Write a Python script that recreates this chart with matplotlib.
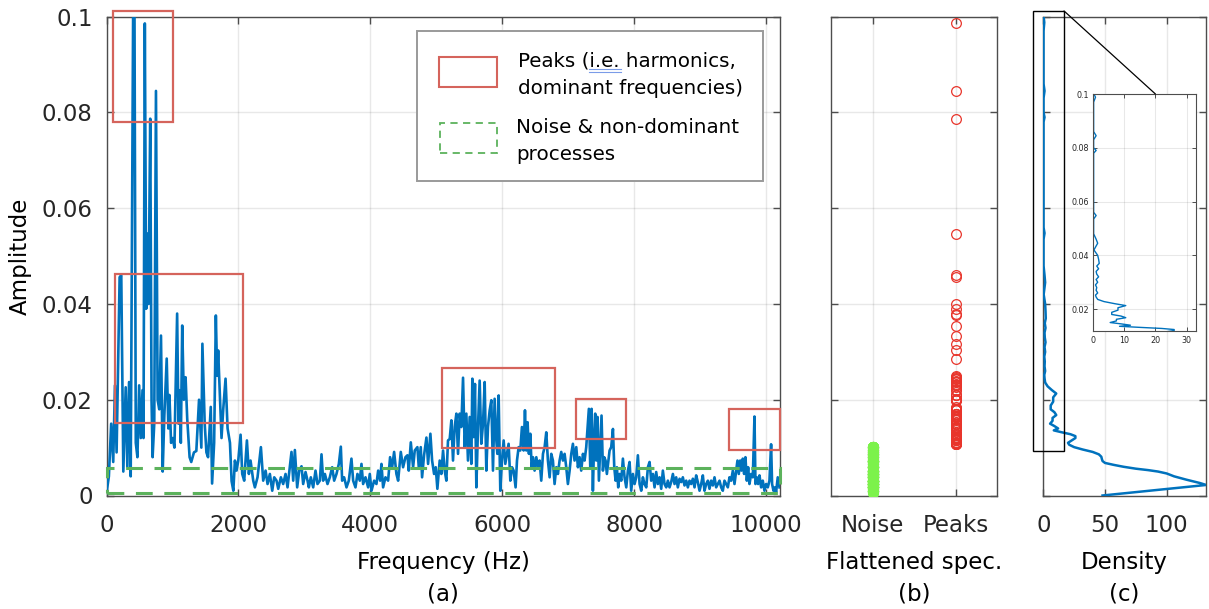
import numpy as np
import matplotlib.pyplot as plt
from matplotlib.patches import Rectangle, ConnectionPatch
from matplotlib.lines import Line2D

plt.rcParams['font.family'] = ['DejaVu Sans']

# amplitude spectrum (Hz, amplitude)
spec_hz = [0, 36, 71, 102, 128, 153, 199, 224, 255, 291, 316, 342, 367, 408, 423, 444, 469, 495, 520, 546,
           561, 581, 602, 622, 638, 663, 683, 699, 724, 750, 775, 800, 826, 852, 877, 913, 938, 954, 979, 1005,
           1030, 1071, 1091, 1107, 1127, 1148, 1173, 1199, 1224, 1260, 1285, 1326, 1362, 1403, 1438, 1454, 1489,
           1515, 1540, 1581, 1601, 1632, 1658, 1678, 1693, 1719, 1744, 1770, 1805, 1836, 1872, 1897, 1923,
           1947, 1972, 1998, 2033, 2058, 2088, 2129, 2159, 2184, 2225, 2250, 2290, 2341, 2376, 2412, 2442, 2477,
           2513, 2543, 2578, 2604, 2644, 2679, 2715, 2745, 2780, 2805, 2831, 2856, 2891, 2922, 2957, 2982, 3018,
           3048, 3068, 3098, 3134, 3169, 3199, 3235, 3260, 3285, 3311, 3351, 3386, 3422, 3452, 3487, 3523, 3553,
           3573, 3603, 3639, 3674, 3714, 3740, 3775, 3805, 3841, 3866, 3891, 3927, 3967, 3992, 4018, 4058, 4093,
           4119, 4149, 4169, 4194, 4230, 4270, 4300, 4331, 4361, 4396, 4422, 4462, 4497, 4533, 4563, 4583, 4614,
           4649, 4674, 4714, 4735, 4765, 4785, 4815, 4851, 4876, 4911, 4937, 4967, 4992, 5017,
           5052, 5077, 5103, 5128, 5153, 5178, 5204, 5229, 5254, 5279, 5305, 5330, 5355, 5380, 5406, 5431, 5456,
           5481, 5507, 5532, 5547, 5567, 5587, 5608, 5633, 5658, 5683, 5709, 5734, 5759, 5784, 5810, 5835, 5860,
           5885, 5911, 5926, 5946, 5971, 5996, 6022, 6047, 6072, 6097, 6123, 6148, 6173, 6203, 6224, 6249, 6274,
           6299, 6325, 6345, 6365, 6385, 6405, 6426, 6446, 6466, 6491, 6517, 6542, 6567, 6592, 6618, 6643, 6668,
           6693, 6719, 6744, 6769, 6794, 6820, 6845, 6870, 6895, 6921, 6946, 6971, 6996, 7022, 7047, 7072, 7097,
           7123, 7148, 7173, 7198, 7224, 7249, 7274, 7299, 7314, 7335, 7355, 7375, 7395, 7410, 7426, 7446, 7466,
           7486, 7506, 7527, 7547, 7567, 7587,
           7628, 7653, 7679, 7699, 7719, 7739, 7759, 7780, 7805, 7830, 7855, 7881, 7906, 7931, 7956, 7982, 8007,
           8032, 8057, 8083, 8108, 8133, 8158, 8184, 8209, 8234, 8259, 8285, 8310, 8335, 8360, 8386, 8411, 8436,
           8461, 8487, 8512, 8537, 8562, 8588, 8613, 8638, 8663, 8689, 8714, 8739, 8764, 8790, 8815, 8840, 8865,
           8891, 8916, 8941, 8966, 8992, 9017, 9042, 9067, 9093, 9118, 9143, 9168, 9194, 9219, 9244, 9269, 9295,
           9320, 9345, 9370, 9396, 9421, 9446, 9471, 9497, 9522, 9547, 9567, 9587, 9608, 9628, 9648, 9668, 9688,
           9709, 9729, 9749, 9774, 9800, 9825, 9840, 9860, 9880, 9901, 9926, 9951, 9976, 10001, 10027, 10052,
           10077, 10092, 10113, 10133, 10153, 10178, 10204]
spec_amp = [0.0005, 0.004, 0.015, 0.007, 0.023, 0.009, 0.0456, 0.046, 0.005, 0.0226, 0.006, 0.0237, 0.004,
            0.112, 0.108, 0.011, 0.008, 0.023, 0.012, 0.022, 0.012, 0.0986, 0.039, 0.0547, 0.040, 0.0787, 0.020,
            0.008, 0.015, 0.0845, 0.020, 0.018, 0.0334, 0.005, 0.0167, 0.0286, 0.014, 0.021, 0.011, 0.012, 0.010,
            0.038, 0.015, 0.022, 0.011, 0.0355, 0.020, 0.0247, 0.016, 0.008, 0.007, 0.009, 0.0093, 0.020, 0.010,
            0.0317, 0.015, 0.009, 0.008, 0.0185, 0.0025, 0.011, 0.0376, 0.025, 0.0303, 0.021, 0.012, 0.018,
            0.0244, 0.014, 0.011, 0.003, 0.001,
            0.0073, 0.0052, 0.0073, 0.0127, 0.0045, 0.0031, 0.0115, 0.0045, 0.0073, 0.0031, 0.0017, 0.0038,
            0.0101, 0.0031, 0.0052, 0.0024, 0.0045, 0.0010, 0.0038, 0.0031, 0.0014, 0.0038, 0.0024, 0.0045,
            0.0017, 0.0059, 0.0091, 0.0031, 0.0095, 0.0017, 0.0052, 0.0061, 0.0024, 0.0049, 0.0031, 0.0017,
            0.0038, 0.0017, 0.0052, 0.0024, 0.0031, 0.0086, 0.0031, 0.0045, 0.0024, 0.0038, 0.0059, 0.0031,
            0.0045, 0.0066, 0.0102, 0.0031, 0.0038, 0.0017, 0.0031, 0.0077, 0.0031, 0.0017, 0.0045, 0.0031,
            0.0066, 0.0024, 0.0038, 0.0017, 0.0045, 0.0010, 0.0031, 0.0024, 0.0052, 0.0031, 0.0066, 0.0017,
            0.0038, 0.0031, 0.0080, 0.0059, 0.0091, 0.0045, 0.0031, 0.0091, 0.0059, 0.0080, 0.0084, 0.0052,
            0.0111, 0.0059, 0.0094, 0.0101, 0.0059, 0.0101, 0.0038, 0.0084, 0.0121, 0.0066, 0.0129, 0.0073,
            0.0045, 0.0059, 0.0014,
            0.0073, 0.0045, 0.0094, 0.0052, 0.0031, 0.0115, 0.0118, 0.0157, 0.0073, 0.0143, 0.0171, 0.0087,
            0.0171, 0.0143, 0.0246, 0.0101, 0.0171, 0.0073, 0.0164, 0.0066, 0.0244, 0.0122, 0.0233, 0.0017,
            0.0143, 0.0240, 0.0108, 0.0150, 0.0237, 0.0052, 0.0143, 0.0178, 0.0199, 0.0052, 0.0202, 0.0115,
            0.0087, 0.0209, 0.0010, 0.0073, 0.0115, 0.0066, 0.0087, 0.0108, 0.0031, 0.0059, 0.0052, 0.0017,
            0.0073, 0.0101, 0.0094, 0.0143, 0.0094, 0.0178, 0.0094, 0.0153, 0.0087, 0.0129, 0.0059, 0.0080,
            0.0052, 0.0080, 0.0059, 0.0073, 0.0031, 0.0087, 0.0101, 0.0132, 0.0073, 0.0038, 0.0087, 0.0073,
            0.0024, 0.0059, 0.0045, 0.0073, 0.0091, 0.0073, 0.0087, 0.0059, 0.0024, 0.0052, 0.0087, 0.0108,
            0.0073, 0.0101, 0.0059, 0.0080, 0.0052, 0.0087, 0.0073, 0.0101, 0.0150, 0.0181, 0.0059, 0.0181,
            0.0010, 0.0122, 0.0171, 0.0073, 0.0164, 0.0031, 0.0101, 0.0167, 0.0052, 0.0080, 0.0073, 0.0045,
            0.0094, 0.0101, 0.0139, 0.0059, 0.0031, 0.0059, 0.0017, 0.0045, 0.0031, 0.0077, 0.0038, 0.0017,
            0.0052, 0.0070, 0.0010, 0.0045, 0.0024, 0.0038, 0.0084, 0.0024, 0.0010, 0.0038, 0.0024, 0.0017,
            0.0059, 0.0070, 0.0031, 0.0045, 0.0017, 0.0049, 0.0024, 0.0038, 0.0014, 0.0052, 0.0024, 0.0017,
            0.0031, 0.0017, 0.0028, 0.0045, 0.0024, 0.0038, 0.0017, 0.0035, 0.0028, 0.0038, 0.0021, 0.0031,
            0.0017, 0.0031, 0.0024, 0.0035, 0.0017, 0.0042, 0.0028, 0.0010, 0.0024, 0.0042, 0.0010, 0.0024,
            0.0031, 0.0014, 0.0031, 0.0021, 0.0038, 0.0017, 0.0024, 0.0031, 0.0017, 0.0010, 0.0031, 0.0024,
            0.0017, 0.0038, 0.0031, 0.0052, 0.0024, 0.0052, 0.0073, 0.0045, 0.0073, 0.0052, 0.0077, 0.0045,
            0.0080, 0.0031, 0.0059, 0.0024, 0.0045, 0.0038, 0.0165, 0.0024, 0.0038, 0.0024, 0.0042, 0.0017,
            0.0031, 0.0010, 0.0024, 0.0017, 0.0031, 0.0107, 0.0024, 0.0010, 0.0017, 0.0007, 0.0038, 0.0017]

# highlighted regions: (f0, f1, a0, a1)
peak_boxes = [(106, 1015, 0.0781, 0.1012), (136, 2076, 0.0152, 0.0462), (5091, 6803, 0.0100, 0.0267),
              (7121, 7879, 0.0117, 0.0202), (9439, 10212, 0.0096, 0.0181)]
noise_band = (0.0006, 0.0058)
split_level = 0.0102

# kernel density of the flattened spectrum (amplitude, density)
dens_amp = [0.0000, 0.0011, 0.0022, 0.0026, 0.0033, 0.0040, 0.0046, 0.0050, 0.0053, 0.0056, 0.0060,
            0.0064, 0.0068, 0.0072, 0.0076, 0.0081, 0.0086, 0.0091, 0.0096, 0.0101, 0.0106, 0.0110, 0.0115,
            0.0120, 0.0124, 0.0128, 0.0132, 0.0136, 0.0140, 0.0145, 0.0150, 0.0156, 0.0162, 0.0168, 0.0174,
            0.0180, 0.0188, 0.0196, 0.0205, 0.0213, 0.0220, 0.0228, 0.0236, 0.0245, 0.0252, 0.0260, 0.0270,
            0.0280, 0.0290, 0.0300, 0.0310, 0.0320, 0.0330, 0.0340, 0.0350, 0.0360, 0.0370, 0.0385, 0.0400,
            0.0420, 0.0445, 0.0460, 0.0480, 0.0535, 0.0548, 0.0560, 0.0780, 0.0790, 0.0800, 0.0830, 0.0845,
            0.0860, 0.0970, 0.0988, 0.1000]
dens_val = [48, 90, 132, 127, 116, 106, 100, 93, 85, 75, 65, 57, 50, 48, 47.5, 47, 45, 40, 32, 25, 21, 20,
            23, 26, 26, 22, 15, 8.5, 12, 9, 5.5, 7.5, 7.5, 10.5, 9, 6, 6, 8, 8, 10.5, 7, 3.5, 1.5, 1.0, 0.8,
            1.5, 1.0, 1.2, 0.8, 1.5, 1.0, 1.8, 1.2, 1.0, 1.8, 1.2, 2.0, 1.8, 1.5, 0.3, 1.5, 1.0, 0.2, 0.2, 1.0,
            0.2, 0.2, 1.0, 0.2, 0.2, 1.0, 0.2, 0.2, 0.8, 0.3]

blue = '#0072BD'
box_red = '#D5645C'
dash_green = '#5CB25C'
dot_green = '#7CF24B'
dot_red = '#E8352B'
axis_col = '#262626'
tick_fs = 16.5
label_fs = 16.5


def matlab_style(ax):
    ax.grid(True, color='#000000', alpha=0.09, lw=1.0)
    ax.set_axisbelow(True)
    for s in ax.spines.values():
        s.set_color('#4d4d4d')
        s.set_linewidth(1.0)
    ax.tick_params(direction='in', length=5, width=1.0, color='#4d4d4d', top=True, right=True,
                   labelsize=tick_fs, labelcolor=axis_col, pad=10)
    ax.tick_params(axis='x', pad=13)


fig = plt.figure(figsize=(12.09, 6.09), dpi=100)
W, H = 1209, 609


def px_axes(x0, y0, x1, y1):
    return fig.add_axes([x0 / W, (H - y1) / H, (x1 - x0) / W, (y1 - y0) / H])


def fig_text(x, y, s, **kw):
    return fig.text(x / W, (H - y) / H, s, **kw)


# (a) spectrum
ax = px_axes(106.5, 16.7, 780, 495.5)
matlab_style(ax)
ax.plot(spec_hz, spec_amp, color=blue, lw=1.9, zorder=3)
for f0, f1, a0, a1 in peak_boxes:
    ax.add_patch(Rectangle((f0, a0), f1 - f0, a1 - a0, fill=False, ec=box_red, lw=1.6,
                           clip_on=False, zorder=4))
ax.add_patch(Rectangle((0, noise_band[0]), 10212, noise_band[1] - noise_band[0], fill=False,
                       ec=dash_green, lw=2.2, ls=(0, (5.5, 3.8)), clip_on=False, zorder=4))
ax.set_xlim(0, 10212)
ax.set_ylim(0, 0.1)
ax.set_xticks([0, 2000, 4000, 6000, 8000, 10000])
ax.set_yticks([0, 0.02, 0.04, 0.06, 0.08, 0.1])
ax.set_yticklabels(['0', '0.02', '0.04', '0.06', '0.08', '0.1'])

# legend drawn as a framed text block
fig.patches.append(Rectangle((416.7 / W, (H - 181) / H), 346 / W, 150 / H, transform=fig.transFigure,
                             fill=True, fc='white', ec='#9a9a9a', lw=1.4, zorder=10))
fig.patches.append(Rectangle((439 / W, (H - 86.7) / H), 58.3 / W, 30 / H, transform=fig.transFigure,
                             fill=False, ec=box_red, lw=1.5, zorder=11))
fig.patches.append(Rectangle((440 / W, (H - 153.3) / H), 57 / W, 30.3 / H, transform=fig.transFigure,
                             fill=False, ec=dash_green, lw=1.3, ls=(0, (4, 3)), zorder=11))
legend_lines = [(518, 66.7, 'Peaks (i.e. harmonics,'), (518, 94, 'dominant frequencies)'),
                (516.5, 133.3, 'Noise & non-dominant'), (516.5, 160, 'processes')]
for lx, ly, s in legend_lines:
    fig_text(lx, ly, s, fontsize=14.3, va='baseline', ha='left', zorder=12)
for yy in (69.3, 71.7):
    fig.lines.append(Line2D([589 / W, 621 / W], [(H - yy) / H] * 2, transform=fig.transFigure,
                            color='#7a9be8', lw=0.8, zorder=12))

# (b) flattened spectrum split into noise and peaks
amp = np.array(spec_amp)
noise_vals = amp[amp <= split_level]
peak_vals = amp[(amp > split_level) & (amp <= 0.1)]
axb = px_axes(831, 16.7, 997.3, 495.5)
matlab_style(axb)
axb.plot(np.ones(len(noise_vals)), noise_vals, 'o', ms=7, mfc=dot_green, mec=dot_green, zorder=3)
axb.plot(np.full(len(peak_vals), 2), peak_vals, 'o', ms=7, mfc='none', mec=dot_red, mew=0.9, zorder=3)
axb.set_xlim(0.5, 2.5)
axb.set_ylim(0, 0.1)
axb.set_xticks([1, 2])
axb.set_xticklabels(['Noise', 'Peaks'])
axb.set_yticks([0, 0.02, 0.04, 0.06, 0.08, 0.1])
axb.set_yticklabels([])

# (c) density
axc = px_axes(1043.3, 16.7, 1205.7, 495.5)
matlab_style(axc)
axc.plot(dens_val, dens_amp, color=blue, lw=1.8, zorder=3)
axc.set_xlim(0, 131.6)
axc.set_ylim(0, 0.1)
axc.set_xticks([0, 50, 100])
axc.set_yticks([0, 0.02, 0.04, 0.06, 0.08, 0.1])
axc.set_yticklabels([])
axc.add_patch(Rectangle((-8.3, 0.0092), 25.1, 0.092, fill=False, ec='black', lw=1.0,
                        clip_on=False, zorder=5))

axi = px_axes(1093, 94, 1196, 331.4)
axi.grid(True, color='#000000', alpha=0.09, lw=0.8)
for s in axi.spines.values():
    s.set_color('#4d4d4d')
    s.set_linewidth(0.8)
axi.tick_params(direction='in', length=3, width=0.7, color='#4d4d4d', top=True, right=True,
                labelsize=5.8, labelcolor=axis_col, pad=3)
axi.plot(dens_val, dens_amp, color=blue, lw=1.0)
axi.set_xlim(0, 33)
axi.set_ylim(0.0117, 0.1)
axi.set_xticks([0, 10, 20, 30])
axi.set_yticks([0.02, 0.04, 0.06, 0.08, 0.1])
axi.set_yticklabels(['0.02', '0.04', '0.06', '0.08', '0.1'])
con = ConnectionPatch(xyA=(16.8, 0.1012), coordsA=axc.transData, xyB=(20, 0.1), coordsB=axi.transData,
                      color='black', lw=0.9, zorder=6)
fig.add_artist(con)

# axis titles and panel letters
fig_text(20, 256, 'Amplitude', rotation=90, fontsize=label_fs, ha='center', va='center')
for cx, name, letter in [(443, 'Frequency (Hz)', '(a)'), (914, 'Flattened spec.', '(b)'),
                         (1124.5, 'Density', '(c)')]:
    fig_text(cx, 563, name, fontsize=label_fs, ha='center', va='center')
    fig_text(cx, 594, letter, fontsize=label_fs, ha='center', va='center')

fig.savefig('out.png', dpi=100)
